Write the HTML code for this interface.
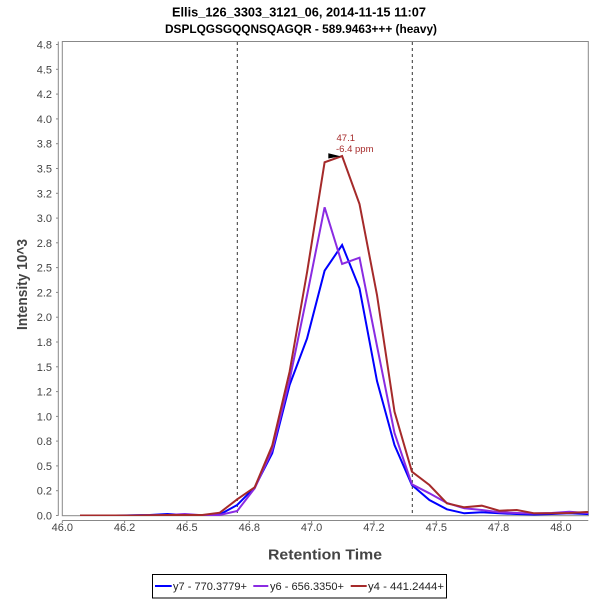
<!DOCTYPE html>
<html><head><meta charset="utf-8"><style>
html,body{margin:0;padding:0;background:#fff;}
svg{display:block;}
text{font-family:"Liberation Sans",sans-serif;}
</style></head><body>
<svg width="600" height="600" viewBox="0 0 600 600" xmlns="http://www.w3.org/2000/svg">
<rect width="600" height="600" fill="#fff"/>
<!-- title -->
<text x="299" y="16.5" font-size="12.5" font-weight="bold" text-anchor="middle" textLength="254" lengthAdjust="spacingAndGlyphs">Ellis_126_3303_3121_06, 2014-11-15 11:07</text>
<text x="301" y="33" font-size="12" font-weight="bold" text-anchor="middle" textLength="272" lengthAdjust="spacingAndGlyphs">DSPLQGSGQQNSQAGQR - 589.9463+++ (heavy)</text>
<!-- plot box -->
<rect x="62.3" y="41.5" width="526" height="474.2" fill="#fff" stroke="#888" stroke-width="1"/>
<!-- dashed lines -->
<line x1="237.3" y1="42" x2="237.3" y2="515.5" stroke="#333" stroke-width="1" stroke-dasharray="3,3"/>
<line x1="412.3" y1="42" x2="412.3" y2="515.5" stroke="#333" stroke-width="1" stroke-dasharray="3,3"/>
<!-- y axis -->
<g stroke="#888" stroke-width="1">
<line x1="58.3" y1="41.5" x2="58.3" y2="515.7"/>
<line x1="56" y1="515.5" x2="58.3" y2="515.5"/>
<line x1="56" y1="490.7" x2="58.3" y2="490.7"/>
<line x1="56" y1="465.9" x2="58.3" y2="465.9"/>
<line x1="56" y1="441.1" x2="58.3" y2="441.1"/>
<line x1="56" y1="416.4" x2="58.3" y2="416.4"/>
<line x1="56" y1="391.6" x2="58.3" y2="391.6"/>
<line x1="56" y1="366.8" x2="58.3" y2="366.8"/>
<line x1="56" y1="342.0" x2="58.3" y2="342.0"/>
<line x1="56" y1="317.2" x2="58.3" y2="317.2"/>
<line x1="56" y1="292.4" x2="58.3" y2="292.4"/>
<line x1="56" y1="267.6" x2="58.3" y2="267.6"/>
<line x1="56" y1="242.8" x2="58.3" y2="242.8"/>
<line x1="56" y1="218.1" x2="58.3" y2="218.1"/>
<line x1="56" y1="193.3" x2="58.3" y2="193.3"/>
<line x1="56" y1="168.5" x2="58.3" y2="168.5"/>
<line x1="56" y1="143.7" x2="58.3" y2="143.7"/>
<line x1="56" y1="118.9" x2="58.3" y2="118.9"/>
<line x1="56" y1="94.1" x2="58.3" y2="94.1"/>
<line x1="56" y1="69.3" x2="58.3" y2="69.3"/>
<line x1="56" y1="44.5" x2="58.3" y2="44.5"/>
</g>
<g font-size="11" fill="#444" text-anchor="end">
<text x="52" y="519.5">0.0</text>
<text x="52" y="494.7">0.2</text>
<text x="52" y="469.9">0.5</text>
<text x="52" y="445.1">0.8</text>
<text x="52" y="420.4">1.0</text>
<text x="52" y="395.6">1.2</text>
<text x="52" y="370.8">1.5</text>
<text x="52" y="346.0">1.8</text>
<text x="52" y="321.2">2.0</text>
<text x="52" y="296.4">2.2</text>
<text x="52" y="271.6">2.5</text>
<text x="52" y="246.8">2.8</text>
<text x="52" y="222.1">3.0</text>
<text x="52" y="197.3">3.2</text>
<text x="52" y="172.5">3.5</text>
<text x="52" y="147.7">3.8</text>
<text x="52" y="122.9">4.0</text>
<text x="52" y="98.1">4.2</text>
<text x="52" y="73.3">4.5</text>
<text x="52" y="48.5">4.8</text>
</g>
<!-- x axis -->
<g stroke="#888" stroke-width="1">
<line x1="62.3" y1="520.5" x2="588.3" y2="520.5"/>
<line x1="62.3" y1="520.5" x2="62.3" y2="523"/>
<line x1="124.6" y1="520.5" x2="124.6" y2="523"/>
<line x1="186.9" y1="520.5" x2="186.9" y2="523"/>
<line x1="249.3" y1="520.5" x2="249.3" y2="523"/>
<line x1="311.6" y1="520.5" x2="311.6" y2="523"/>
<line x1="373.9" y1="520.5" x2="373.9" y2="523"/>
<line x1="436.3" y1="520.5" x2="436.3" y2="523"/>
<line x1="498.6" y1="520.5" x2="498.6" y2="523"/>
<line x1="560.9" y1="520.5" x2="560.9" y2="523"/>
</g>
<g font-size="11" fill="#444" text-anchor="middle">
<text x="62.3" y="531">46.0</text>
<text x="124.6" y="531">46.2</text>
<text x="186.9" y="531">46.5</text>
<text x="249.3" y="531">46.8</text>
<text x="311.6" y="531">47.0</text>
<text x="373.9" y="531">47.2</text>
<text x="436.3" y="531">47.5</text>
<text x="498.6" y="531">47.8</text>
<text x="560.9" y="531">48.0</text>
</g>
<!-- axis titles -->
<text x="325" y="559.5" font-size="15" font-weight="bold" fill="#444" text-anchor="middle" textLength="114" lengthAdjust="spacingAndGlyphs">Retention Time</text>
<text transform="translate(27,284.5) rotate(-90)" x="0" y="0" font-size="15" font-weight="bold" fill="#444" text-anchor="middle" textLength="91" lengthAdjust="spacingAndGlyphs">Intensity 10^3</text>
<!-- series -->
<defs><clipPath id="pc"><rect x="62.3" y="41.5" width="526" height="474.5"/></clipPath></defs>
<g clip-path="url(#pc)" fill="none" stroke-width="2" stroke-linejoin="miter">
<polyline stroke="#0000ff" points="80,515.5 97.5,515.5 114.9,515.5 132.4,515.3 149.9,515 167.4,514 184.8,515 202.3,515.2 219.8,514.5 237.2,505 254.7,487.3 272.2,453.3 289.6,385 307.1,338.3 324.6,270.7 342.1,245 359.5,288.3 377,381 394.5,445 411.9,485 429.4,500 446.9,509.3 464.3,513.3 481.8,512.3 499.3,513.3 516.8,514 534.2,514.5 551.7,514 569.2,513.3 586.6,514 604.1,514"/>
<polyline stroke="#8a2be2" points="80,515.5 97.5,515.5 114.9,515.5 132.4,515.5 149.9,515.3 167.4,515 184.8,514 202.3,515.2 219.8,515 237.2,511 254.7,488.3 272.2,450 289.6,380 307.1,295 324.6,207.3 342.1,264 359.5,257.7 377,346 394.5,433 411.9,484.3 429.4,493.3 446.9,503 464.3,508.3 481.8,510 499.3,512.3 516.8,513 534.2,513.5 551.7,513 569.2,511.7 586.6,513 604.1,513"/>
<polyline stroke="#a52a2a" points="80,515.5 97.5,515.5 114.9,515.5 132.4,515.5 149.9,515.3 167.4,515 184.8,515 202.3,515 219.8,512.7 237.2,499.3 254.7,487.3 272.2,445.7 289.6,371.7 307.1,272 324.6,162.3 342.1,156 359.5,204 377,295 394.5,411.7 411.9,471.7 429.4,485 446.9,503.3 464.3,507.3 481.8,505.7 499.3,510.7 516.8,510 534.2,513.3 551.7,513.3 569.2,513 586.6,512 604.1,512"/>
</g>
<!-- annotation -->
<polygon points="328.3,153.3 340.5,156.2 328.3,158.5" fill="#000"/>
<text x="336.5" y="141" font-size="9.5" fill="#a52a2a">47.1</text>
<text x="336" y="152" font-size="9.5" fill="#a52a2a">-6.4 ppm</text>
<!-- legend -->
<rect x="152.5" y="574.5" width="294" height="23.5" fill="#fff" stroke="#000" stroke-width="1"/>
<line x1="155" y1="586" x2="171.7" y2="586" stroke="#0000ff" stroke-width="2"/>
<text x="173" y="590" font-size="11" fill="#222" textLength="74" lengthAdjust="spacingAndGlyphs">y7 - 770.3779+</text>
<line x1="253.3" y1="586" x2="268.3" y2="586" stroke="#8a2be2" stroke-width="2"/>
<text x="270" y="590" font-size="11" fill="#222" textLength="74" lengthAdjust="spacingAndGlyphs">y6 - 656.3350+</text>
<line x1="350.7" y1="586" x2="366.7" y2="586" stroke="#a52a2a" stroke-width="2"/>
<text x="368" y="590" font-size="11" fill="#222" textLength="76" lengthAdjust="spacingAndGlyphs">y4 - 441.2444+</text>
</svg>
</body></html>
